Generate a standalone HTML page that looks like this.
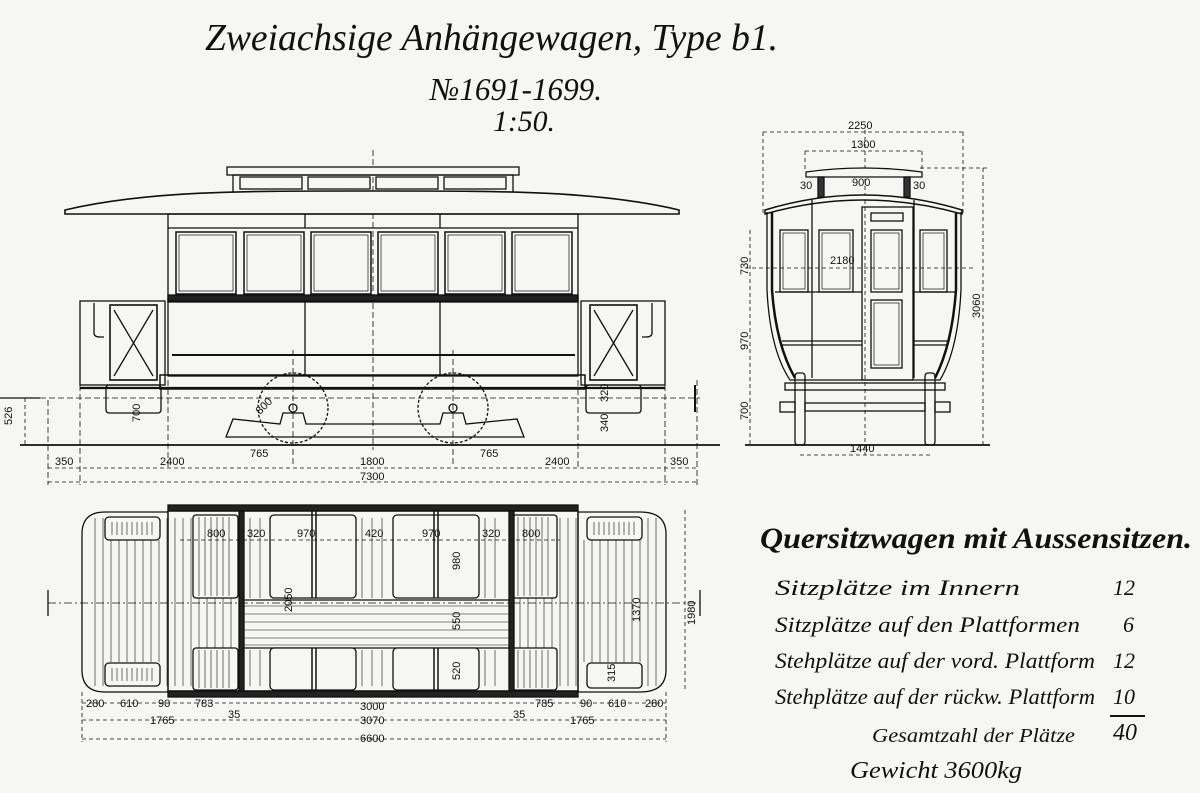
<!DOCTYPE html>
<html><head><meta charset="utf-8"><style>
html,body{margin:0;padding:0;background:#f6f6f4;}
svg{display:block}
.s{font-family:"Liberation Serif",serif;font-style:italic;fill:#111}
.d{font-family:"Liberation Sans",sans-serif;font-size:11px;fill:#111}
</style></head><body>
<svg width="1200" height="793" viewBox="0 0 1200 793" xmlns="http://www.w3.org/2000/svg" stroke="#111" fill="none" stroke-width="1.3">
<rect x="0" y="0" width="1200" height="793" fill="#f6f6f4" stroke="none"/>
<g stroke="none">
<text class="s" x="205" y="50" font-size="38" textLength="573" lengthAdjust="spacingAndGlyphs">Zweiachsige Anhängewagen, Type b1.</text>
<text class="s" x="430" y="100" font-size="32" textLength="172" lengthAdjust="spacingAndGlyphs">№1691-1699.</text>
<text class="s" x="493" y="131" font-size="30" textLength="62" lengthAdjust="spacingAndGlyphs">1:50.</text>
<text class="s" x="760" y="548" font-size="30" font-weight="bold" textLength="432" lengthAdjust="spacingAndGlyphs">Quersitzwagen mit Aussensitzen.</text>
<text class="s" x="775" y="595" font-size="22" textLength="245" lengthAdjust="spacingAndGlyphs">Sitzplätze im Innern</text>
<text class="s" x="775" y="632" font-size="22" textLength="305" lengthAdjust="spacingAndGlyphs">Sitzplätze auf den Plattformen</text>
<text class="s" x="775" y="668" font-size="22" textLength="320" lengthAdjust="spacingAndGlyphs">Stehplätze auf der vord. Plattform</text>
<text class="s" x="775" y="704" font-size="22" textLength="320" lengthAdjust="spacingAndGlyphs">Stehplätze auf der rückw. Plattform</text>
<text class="s" x="872" y="742" font-size="20" textLength="203" lengthAdjust="spacingAndGlyphs">Gesamtzahl der Plätze</text>
<text class="s" x="850" y="778" font-size="24" textLength="172" lengthAdjust="spacingAndGlyphs">Gewicht  3600kg</text>
<text class="s" x="1113" y="595" font-size="22">12</text>
<text class="s" x="1123" y="632" font-size="22">6</text>
<text class="s" x="1113" y="668" font-size="22">12</text>
<text class="s" x="1113" y="704" font-size="22">10</text>
<text class="s" x="1113" y="740" font-size="24">40</text>
</g>
<line x1="1110" y1="716" x2="1145" y2="716" stroke-width="2"/>

<!-- SIDE VIEW -->
<g stroke-dasharray="6 3" stroke-width="0.8">
<line x1="373" y1="150" x2="373" y2="450"/>
<line x1="40" y1="398" x2="700" y2="398"/>
<line x1="293" y1="350" x2="293" y2="465"/><line x1="453" y1="350" x2="453" y2="465"/>
<line x1="48" y1="400" x2="48" y2="485"/><line x1="697" y1="380" x2="697" y2="485"/>
<line x1="80" y1="385" x2="80" y2="485"/><line x1="665" y1="385" x2="665" y2="485"/>
<line x1="168" y1="380" x2="168" y2="470"/><line x1="578" y1="380" x2="578" y2="470"/>
</g>
<rect x="227" y="167" width="292" height="8" fill="#f6f6f4"/>
<rect x="233" y="175" width="280" height="18"/>
<rect x="240" y="177" width="62" height="12"/><rect x="308" y="177" width="62" height="12"/><rect x="376" y="177" width="62" height="12"/><rect x="444" y="177" width="62" height="12"/>
<path d="M65,210 C150,190 250,191 372,191 C495,191 595,190 679,210 L679,214 L65,214 Z" fill="#f6f6f4" stroke-width="1.6"/>
<rect x="168" y="214" width="410" height="88"/>
<line x1="168" y1="228" x2="578" y2="228"/>
<line x1="305" y1="214" x2="305" y2="228"/><line x1="440" y1="214" x2="440" y2="228"/>
<g stroke-width="1.5">
<rect x="176" y="232" width="60" height="62"/><rect x="244" y="232" width="60" height="62"/><rect x="311" y="232" width="60" height="62"/><rect x="378" y="232" width="60" height="62"/><rect x="445" y="232" width="60" height="62"/><rect x="512" y="232" width="60" height="62"/>
</g>
<rect x="179" y="235" width="54" height="56" stroke-width="0.7"/><rect x="247" y="235" width="54" height="56" stroke-width="0.7"/><rect x="314" y="235" width="54" height="56" stroke-width="0.7"/><rect x="381" y="235" width="54" height="56" stroke-width="0.7"/><rect x="448" y="235" width="54" height="56" stroke-width="0.7"/><rect x="515" y="235" width="54" height="56" stroke-width="0.7"/>
<rect x="168" y="295" width="410" height="6" fill="#222"/>
<rect x="168" y="301" width="410" height="75"/>
<line x1="305" y1="301" x2="305" y2="376"/><line x1="440" y1="301" x2="440" y2="376"/>
<line x1="172" y1="355" x2="575" y2="355" stroke-width="2"/>
<rect x="160" y="375" width="425" height="14" stroke-width="1.5"/>
<line x1="80" y1="388" x2="665" y2="388" stroke-width="2.2"/>
<rect x="80" y="301" width="85" height="84"/>
<rect x="110" y="305" width="47" height="75" stroke-width="1.6"/>
<path d="M114,310 L153,376 M153,310 L114,376"/>
<path d="M94,303 L94,333 Q94,337 100,337 L104,337"/>
<rect x="581" y="301" width="84" height="84"/>
<rect x="590" y="305" width="47" height="75" stroke-width="1.6"/>
<path d="M594,310 L633,376 M633,310 L594,376"/>
<path d="M652,303 L652,333 Q652,337 646,337 L642,337"/>
<rect x="106" y="385" width="55" height="28" rx="3"/>
<rect x="586" y="385" width="55" height="28" rx="3"/>
<circle cx="293" cy="408" r="35" stroke-dasharray="3 2"/><circle cx="453" cy="408" r="35" stroke-dasharray="3 2"/>
<circle cx="293" cy="408" r="4"/><circle cx="453" cy="408" r="4"/>
<path d="M226,437 L233,419 L280,424 L283,413 L303,413 L306,424 L440,424 L443,413 L463,413 L466,424 L517,419 L524,437 Z"/>
<line x1="20" y1="445" x2="720" y2="445" stroke-width="1.8"/>
<line x1="0" y1="398" x2="40" y2="398"/><line x1="695" y1="385" x2="695" y2="412" stroke-width="2"/>
<g stroke-dasharray="4 3" stroke-width="0.8">
<line x1="48" y1="468" x2="697" y2="468"/><line x1="48" y1="482" x2="697" y2="482"/>
<line x1="25" y1="398" x2="25" y2="445"/>
</g>
<g stroke="none">
<text class="d" x="55" y="465">350</text><text class="d" x="160" y="465">2400</text><text class="d" x="250" y="457">765</text><text class="d" x="360" y="465">1800</text><text class="d" x="480" y="457">765</text><text class="d" x="545" y="465">2400</text><text class="d" x="670" y="465">350</text>
<text class="d" x="360" y="480">7300</text>
<text class="d" x="12" y="425" transform="rotate(-90 12 425)">526</text>
<text class="d" x="140" y="422" transform="rotate(-90 140 422)">700</text>
<text class="d" x="608" y="402" transform="rotate(-90 608 402)">320</text>
<text class="d" x="608" y="432" transform="rotate(-90 608 432)">340</text>
<text class="d" x="260" y="415" transform="rotate(-45 260 415)">800</text>
</g>

<!-- END VIEW -->
<g stroke-dasharray="4 3" stroke-width="0.8">
<line x1="763" y1="132" x2="963" y2="132"/><line x1="805" y1="151" x2="922" y2="151"/>
<line x1="763" y1="132" x2="763" y2="215"/><line x1="963" y1="132" x2="963" y2="215"/>
<line x1="805" y1="151" x2="805" y2="172"/><line x1="922" y1="151" x2="922" y2="172"/>
<line x1="865" y1="130" x2="865" y2="455"/>
<line x1="983" y1="168" x2="983" y2="445"/>
<line x1="750" y1="230" x2="750" y2="445"/>
<line x1="745" y1="268" x2="975" y2="268"/>
<line x1="800" y1="455" x2="932" y2="455"/>
<line x1="920" y1="168" x2="990" y2="168"/>
</g>
<path d="M806,172 Q863,164 922,172 L922,177 L806,177 Z" fill="#f6f6f4"/>
<rect x="818" y="177" width="6" height="20" fill="#333"/><rect x="904" y="177" width="6" height="20" fill="#333"/>
<path d="M765,210 Q863,180 962,210 L962,214 Q863,186 765,214 Z" fill="#f6f6f4" stroke-width="1.5"/>
<path d="M767,212 L767,290 Q770,350 790,380 L940,380 Q958,350 961,290 L961,212"/>
<path d="M772,212 L772,290 Q776,345 795,378 M956,212 L956,290 Q952,345 935,378" stroke-width="2.5"/>
<line x1="812" y1="200" x2="812" y2="378"/><line x1="914" y1="200" x2="914" y2="378"/>
<rect x="862" y="207" width="51" height="173"/>
<rect x="871" y="213" width="32" height="8"/>
<rect x="871" y="230" width="31" height="62"/><rect x="874" y="233" width="25" height="56" stroke-width="0.7"/>
<rect x="871" y="300" width="31" height="68"/><rect x="874" y="303" width="25" height="62" stroke-width="0.7"/>
<rect x="780" y="230" width="28" height="62"/><rect x="783" y="233" width="22" height="56" stroke-width="0.7"/>
<rect x="819" y="230" width="34" height="62"/><rect x="822" y="233" width="28" height="56" stroke-width="0.7"/>
<rect x="920" y="230" width="27" height="62"/><rect x="923" y="233" width="21" height="56" stroke-width="0.7"/>
<line x1="775" y1="292" x2="862" y2="292"/><line x1="913" y1="292" x2="955" y2="292"/>
<line x1="782" y1="341" x2="862" y2="341"/><line x1="782" y1="345" x2="862" y2="345"/>
<line x1="913" y1="341" x2="948" y2="341"/><line x1="913" y1="345" x2="948" y2="345"/>
<rect x="785" y="383" width="160" height="7"/>
<rect x="795" y="373" width="10" height="72" rx="3"/><rect x="925" y="373" width="10" height="72" rx="3"/>
<rect x="805" y="403" width="120" height="8"/>
<rect x="780" y="402" width="15" height="10"/><rect x="935" y="402" width="15" height="10"/>
<line x1="745" y1="445" x2="990" y2="445" stroke-width="1.8"/>
<g stroke="none">
<text class="d" x="848" y="129">2250</text><text class="d" x="851" y="148">1300</text>
<text class="d" x="800" y="189">30</text><text class="d" x="852" y="186">900</text><text class="d" x="913" y="189">30</text>
<text class="d" x="830" y="264">2180</text><text class="d" x="850" y="452">1440</text>
<text class="d" x="748" y="275" transform="rotate(-90 748 275)">730</text>
<text class="d" x="748" y="350" transform="rotate(-90 748 350)">970</text>
<text class="d" x="748" y="420" transform="rotate(-90 748 420)">700</text>
<text class="d" x="980" y="318" transform="rotate(-90 980 318)" font-size="12">3060</text>
</g>

<!-- PLAN VIEW -->
<line x1="48" y1="603" x2="700" y2="603" stroke-dasharray="8 3 2 3" stroke-width="0.8"/>
<line x1="48" y1="590" x2="48" y2="616"/><line x1="700" y1="590" x2="700" y2="616"/>
<path d="M105,512 L168,512 L168,692 L105,692 Q82,692 82,670 L82,534 Q82,512 105,512 Z"/>
<path d="M640,512 L578,512 L578,692 L640,692 Q666,692 666,670 L666,534 Q666,512 640,512 Z"/>
<rect x="168" y="505" width="410" height="6" fill="#222"/>
<rect x="168" y="691" width="410" height="6" fill="#222"/>
<rect x="168" y="511" width="410" height="180"/>
<g stroke-width="0.6">
<path d="M95,518V686M103,518V686M111,540V662M119,540V662M127,540V662M135,540V662M143,540V662M151,540V662M159,540V662M167,518V686M175,518V686M183,518V686M191,518V686M199,518V686M207,518V686M215,518V686M223,518V686M231,518V686"/>
<path d="M520,518V686M528,518V686M536,518V686M544,518V686M552,518V686M560,518V686M568,518V686M576,518V686M584,540V662M592,540V662M600,540V662M608,540V662M616,540V662M624,540V662M632,540V662M640,540V662M648,518V686M656,518V686"/>
<path d="M250,518V598M260,518V598M362,518V598M372,518V598M382,518V598M485,518V598M495,518V598M250,650V686M260,650V686M362,650V686M372,650V686M382,650V686M485,650V686M495,650V686"/>
<path d="M243,606H510M243,614H510M243,622H510M243,630H510M243,638H510M243,645H510"/>
</g>
<line x1="243" y1="600" x2="510" y2="600"/><line x1="243" y1="648" x2="510" y2="648"/>
<g fill="#f6f6f4" stroke-width="1.3">
<rect x="105" y="517" width="55" height="23" rx="4"/><rect x="105" y="663" width="55" height="23" rx="4"/>
<rect x="587" y="517" width="55" height="23" rx="4"/><rect x="587" y="663" width="55" height="25" rx="4"/>
<rect x="193" y="515" width="45" height="83" rx="3"/><rect x="193" y="648" width="45" height="42" rx="3"/>
<rect x="512" y="515" width="45" height="83" rx="3"/><rect x="512" y="648" width="45" height="42" rx="3"/>
<rect x="270" y="515" width="86" height="83" rx="4"/><rect x="393" y="515" width="86" height="83" rx="4"/>
<rect x="270" y="648" width="86" height="42" rx="4"/><rect x="393" y="648" width="86" height="42" rx="4"/>
</g>
<g stroke-width="0.6">
<path d="M199,517V596M205,517V596M211,517V596M217,517V596M223,517V596M229,517V596M518,517V596M524,517V596M530,517V596M536,517V596M542,517V596M548,517V596M199,650V688M205,650V688M211,650V688M217,650V688M223,650V688M229,650V688M518,650V688M524,650V688M530,650V688M536,650V688M542,650V688M548,650V688"/>
<path d="M112,522v13M117,522v13M122,522v13M127,522v13M132,522v13M137,522v13M142,522v13M147,522v13M152,522v13M112,668v13M117,668v13M122,668v13M127,668v13M132,668v13M137,668v13M142,668v13M147,668v13M152,668v13M594,522v13M599,522v13M604,522v13M609,522v13M614,522v13M619,522v13M624,522v13M629,522v13M634,522v13"/>
</g>
<rect x="239" y="511" width="5" height="180" fill="#222"/><rect x="509" y="511" width="5" height="180" fill="#222"/>
<line x1="312" y1="511" x2="312" y2="598" stroke-width="1.5"/><line x1="316" y1="511" x2="316" y2="598" stroke-width="1.5"/>
<line x1="434" y1="511" x2="434" y2="598" stroke-width="1.5"/><line x1="438" y1="511" x2="438" y2="598" stroke-width="1.5"/>
<line x1="312" y1="648" x2="312" y2="691" stroke-width="1.5"/><line x1="316" y1="648" x2="316" y2="691" stroke-width="1.5"/>
<line x1="434" y1="648" x2="434" y2="691" stroke-width="1.5"/><line x1="438" y1="648" x2="438" y2="691" stroke-width="1.5"/>
<g stroke-dasharray="4 3" stroke-width="0.8">
<line x1="82" y1="703" x2="666" y2="703"/><line x1="82" y1="720" x2="666" y2="720"/><line x1="82" y1="739" x2="666" y2="739"/>
<line x1="82" y1="692" x2="82" y2="742"/><line x1="666" y1="692" x2="666" y2="742"/>
<line x1="685" y1="510" x2="685" y2="692"/>
<line x1="180" y1="540" x2="560" y2="540"/>
</g>
<g stroke="none">
<text class="d" x="86" y="707">280</text><text class="d" x="120" y="707">610</text><text class="d" x="158" y="707">90</text><text class="d" x="195" y="707">783</text><text class="d" x="360" y="710">3000</text><text class="d" x="535" y="707">785</text><text class="d" x="580" y="707">90</text><text class="d" x="608" y="707">610</text><text class="d" x="645" y="707">280</text>
<text class="d" x="150" y="724">1765</text><text class="d" x="228" y="718">35</text><text class="d" x="360" y="724">3070</text><text class="d" x="513" y="718">35</text><text class="d" x="570" y="724">1765</text>
<text class="d" x="360" y="742">6600</text>
<text class="d" x="207" y="537">800</text><text class="d" x="247" y="537">320</text><text class="d" x="297" y="537">970</text><text class="d" x="365" y="537">420</text><text class="d" x="422" y="537">970</text><text class="d" x="482" y="537">320</text><text class="d" x="522" y="537">800</text>
<text class="d" x="292" y="612" transform="rotate(-90 292 612)">2050</text>
<text class="d" x="460" y="570" transform="rotate(-90 460 570)">980</text>
<text class="d" x="460" y="630" transform="rotate(-90 460 630)">550</text>
<text class="d" x="460" y="680" transform="rotate(-90 460 680)">520</text>
<text class="d" x="615" y="682" transform="rotate(-90 615 682)">315</text>
<text class="d" x="640" y="622" transform="rotate(-90 640 622)">1370</text>
<text class="d" x="695" y="625" transform="rotate(-90 695 625)">1980</text>
</g>
</svg>
</body></html>
